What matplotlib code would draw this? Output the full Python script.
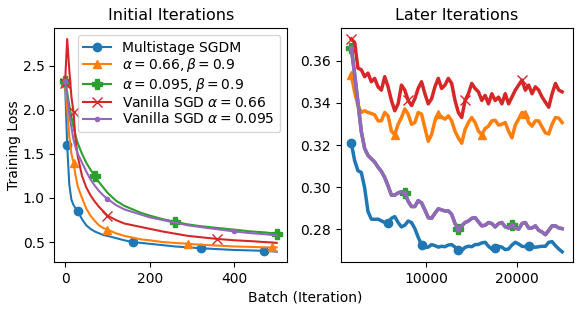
import numpy as np
import matplotlib
matplotlib.use('Agg')
import matplotlib.pyplot as plt

### left panel: first 500 batches
batch = [0, 5, 10, 15, 20, 25, 30, 40, 50, 60, 70, 80, 90, 100, 120, 140, 160, 180,
         200, 230, 260, 290, 320, 360, 400, 440, 470, 490, 500]
multistage = [2.30, 1.60, 1.15, 0.98, 0.92, 0.88, 0.85, 0.76, 0.69, 0.65, 0.62, 0.60, 0.58, 0.57,
              0.545, 0.52, 0.50, 0.49, 0.48, 0.465, 0.45, 0.44, 0.43, 0.42, 0.41, 0.405, 0.40, 0.395, 0.39]
sgdm_066 = [2.30, 2.00, 1.70, 1.50, 1.40, 1.25, 1.13, 1.00, 0.88, 0.80, 0.74, 0.69, 0.66, 0.64,
            0.60, 0.57, 0.55, 0.53, 0.52, 0.50, 0.49, 0.48, 0.47, 0.46, 0.45, 0.445, 0.44, 0.44, 0.44]
sgdm_0095 = [2.32, 2.20, 2.05, 1.92, 1.80, 1.70, 1.62, 1.50, 1.40, 1.32, 1.25, 1.18, 1.12, 1.06,
             0.97, 0.91, 0.87, 0.83, 0.80, 0.76, 0.73, 0.70, 0.68, 0.66, 0.64, 0.62, 0.61, 0.60, 0.59]
sgd_066 = [2.30, 2.80, 2.45, 2.15, 1.97, 1.65, 1.47, 1.25, 1.12, 1.03, 0.96, 0.90, 0.85, 0.80,
           0.75, 0.71, 0.69, 0.67, 0.65, 0.62, 0.595, 0.57, 0.555, 0.535, 0.52, 0.51, 0.50, 0.495, 0.49]
sgd_0095 = [2.33, 2.15, 1.95, 1.80, 1.66, 1.57, 1.50, 1.40, 1.30, 1.21, 1.14, 1.08, 1.03, 0.99,
            0.92, 0.87, 0.84, 0.81, 0.78, 0.75, 0.72, 0.69, 0.67, 0.645, 0.62, 0.60, 0.59, 0.58, 0.575]

### right panel: later iterations (logged at even steps)
iters = np.linspace(1700, 25000, 64)
late_multistage = [0.3211, 0.3127, 0.3078, 0.3070, 0.2997, 0.2884, 0.2848, 0.2847, 0.2848, 0.2840,
                   0.2832, 0.2831, 0.2852, 0.2860, 0.2832, 0.2811, 0.2819, 0.2839, 0.2832, 0.2803,
                   0.2762, 0.2725, 0.2714, 0.2715, 0.2727, 0.2722, 0.2715, 0.2719, 0.2717, 0.2725,
                   0.2727, 0.2715, 0.2701, 0.2699, 0.2714, 0.2719, 0.2717, 0.2727, 0.2728, 0.2735,
                   0.2738, 0.2719, 0.2706, 0.2709, 0.2719, 0.2715, 0.2703, 0.2706, 0.2725, 0.2738,
                   0.2730, 0.2719, 0.2717, 0.2722, 0.2719, 0.2714, 0.2717, 0.2719, 0.2719, 0.2738,
                   0.2741, 0.2722, 0.2706, 0.2693]
late_sgdm_066 = [0.3534, 0.3453, 0.3388, 0.3355, 0.3363, 0.3355, 0.3350, 0.3344, 0.3315, 0.3315,
                 0.3355, 0.3339, 0.3266, 0.3250, 0.3299, 0.3331, 0.3372, 0.3347, 0.3299, 0.3307,
                 0.3355, 0.3347, 0.3282, 0.3218, 0.3250, 0.3315, 0.3347, 0.3334, 0.3323, 0.3339,
                 0.3315, 0.3266, 0.3234, 0.3209, 0.3274, 0.3307, 0.3331, 0.3307, 0.3266, 0.3250,
                 0.3279, 0.3290, 0.3315, 0.3318, 0.3295, 0.3299, 0.3307, 0.3266, 0.3234, 0.3295,
                 0.3323, 0.3355, 0.3350, 0.3307, 0.3290, 0.3315, 0.3315, 0.3286, 0.3258, 0.3253,
                 0.3299, 0.3331, 0.3328, 0.3307]
late_sgd_066 = [0.3704, 0.3688, 0.3566, 0.3558, 0.3525, 0.3542, 0.3501, 0.3517, 0.3477, 0.3461,
                0.3525, 0.3477, 0.3412, 0.3363, 0.3396, 0.3485, 0.3461, 0.3412, 0.3388, 0.3420,
                0.3469, 0.3501, 0.3444, 0.3396, 0.3420, 0.3477, 0.3517, 0.3469, 0.3485, 0.3517,
                0.3493, 0.3412, 0.3355, 0.3331, 0.3412, 0.3444, 0.3493, 0.3469, 0.3453, 0.3412,
                0.3436, 0.3396, 0.3444, 0.3412, 0.3428, 0.3396, 0.3444, 0.3396, 0.3428, 0.3461,
                0.3485, 0.3509, 0.3461, 0.3485, 0.3444, 0.3477, 0.3461, 0.3428, 0.3404, 0.3380,
                0.3444, 0.3493, 0.3461, 0.3453]
late_sgd_0095 = [0.3663, 0.3538, 0.3403, 0.3265, 0.3184, 0.3151, 0.3135, 0.3119, 0.3095, 0.3075,
                 0.3046, 0.3006, 0.2962, 0.2962, 0.2973, 0.2978, 0.2973, 0.2933, 0.2908, 0.2908,
                 0.2936, 0.2925, 0.2892, 0.2855, 0.2852, 0.2876, 0.2897, 0.2892, 0.2887, 0.2887,
                 0.2871, 0.2827, 0.2800, 0.2816, 0.2832, 0.2839, 0.2852, 0.2855, 0.2835, 0.2816,
                 0.2819, 0.2832, 0.2827, 0.2811, 0.2827, 0.2832, 0.2811, 0.2806, 0.2819, 0.2806,
                 0.2800, 0.2827, 0.2832, 0.2806, 0.2806, 0.2816, 0.2795, 0.2787, 0.2774, 0.2795,
                 0.2816, 0.2816, 0.2806, 0.2803]
# green run sits right under the purple one in this panel
late_sgdm_0095 = list(late_sgd_0095)

labels = ['Multistage SGDM', r'$\alpha=0.66, \beta=0.9$', r'$\alpha=0.095, \beta=0.9$',
          r'Vanilla SGD $\alpha=0.66$', r'Vanilla SGD $\alpha=0.095$']

fig = plt.figure(figsize=(5.82, 3.12), dpi=100)
ax1 = fig.add_axes([0.0936, 0.159, 0.400, 0.750])
ax2 = fig.add_axes([0.5854, 0.159, 0.3986, 0.750])

ax1.plot(batch, multistage, color='tab:blue', marker='o', markevery=[0, 1, 6, 16, 22, 26], label=labels[0])
ax1.plot(batch, sgdm_066, color='tab:orange', marker='^', markevery=[0, 4, 13, 21, 27], label=labels[1])
ax1.plot(batch, sgdm_0095, color='tab:green', marker='P', ms=7, markevery=[0, 10, 20, 28], label=labels[2])
ax1.plot(batch, sgd_066, color='tab:red', marker='x', ms=7, markevery=[0, 4, 13, 23], label=labels[3])
ax1.plot(batch, sgd_0095, color='tab:purple', marker='.', markevery=[0, 13, 24], label=labels[4])
ax1.set_title('Initial Iterations', fontsize=11.5)
ax1.set_ylabel('Training Loss', labelpad=1)
ax1.set_xticks([0, 200, 400])
ax1.set_yticks([0.5, 1.0, 1.5, 2.0, 2.5])
ax1.legend(loc='upper right', labelspacing=0.1)

lw = 2.5
ax2.plot(iters, late_multistage, color='tab:blue', lw=lw, marker='o', markevery=[0, 11, 21, 32, 43, 53])
ax2.plot(iters, late_sgdm_066, color='tab:orange', lw=lw, marker='^', markevery=13)
ax2.plot(iters, late_sgdm_0095, color='tab:green', lw=lw, marker='P', ms=7, markevery=16)
ax2.plot(iters, late_sgd_066, color='tab:red', lw=lw, marker='x', ms=7, markevery=17)
ax2.plot(iters, late_sgd_0095, color='tab:purple', lw=lw, marker='.', markevery=16)
ax2.set_title('Later Iterations', fontsize=11.5)
ax2.set_xticks([10000, 20000])
ax2.set_yticks([0.28, 0.30, 0.32, 0.34, 0.36])

fig.text(0.524, 0.045, 'Batch (Iteration)', ha='center', va='center', fontsize=10)

fig.savefig('out.png', dpi=100)
